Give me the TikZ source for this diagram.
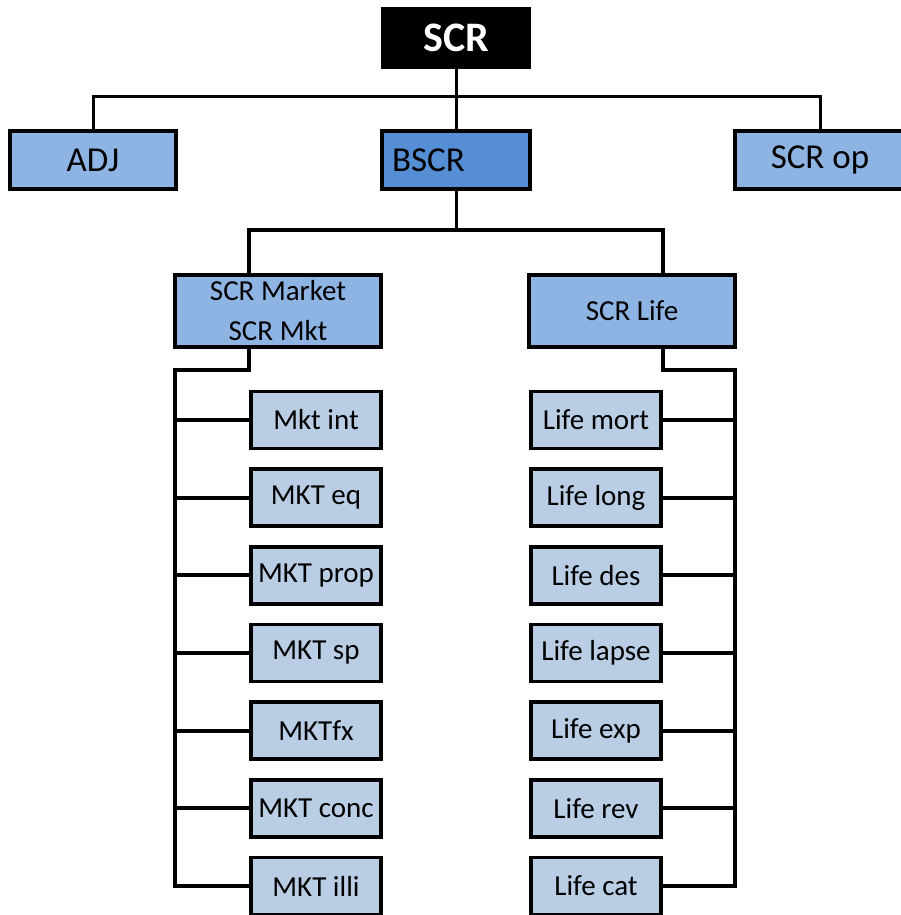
\documentclass[tikz,border=0pt]{standalone}
\usepackage{fontspec}
\setmainfont{Carlito}
\definecolor{topblue}{HTML}{8EB4E3}
\definecolor{midblue}{HTML}{558ED5}
\definecolor{leafblue}{HTML}{B9CDE5}
\begin{document}
\begin{tikzpicture}[x=1pt,y=-1pt,
  box/.style={draw,line width=3.5pt,fill=topblue,inner sep=0pt,minimum height=58pt,font=\fontsize{35}{40}\selectfont},
  leaf/.style={draw,line width=3.5pt,fill=leafblue,inner sep=0pt,minimum width=130pt,minimum height=57pt,font=\fontsize{29}{35}\selectfont},
  link/.style={line width=3pt},
  branch/.style={line width=4pt}]
  \useasboundingbox (0,0) rectangle (900,915);
  % top level
  \node[box,fill=black,text=white,minimum width=147pt,font=\fontsize{42}{48}\selectfont\bfseries] (scr) at (456,38) {SCR};
  \node[box,minimum width=166pt] (adj) at (93,160) {ADJ};
  \node[box,fill=midblue,text width=128pt,inner xsep=10pt,align=left] (bscr) at (456,160) {BSCR};
  \node[box,minimum width=170pt] (scrop) at (820,160) {SCR op};
  \coordinate (bar1) at (456,97);
  \draw[link] (adj.north) |- (bar1) -| (scrop.north);
  \draw[link] (scr.south) -- (bscr.north);
  % modules
  \node[box,minimum width=206pt,minimum height=72pt,align=center,font=\fontsize{29}{40}\selectfont] (market) at (278,311) {SCR Market\\SCR Mkt};
  \node[box,minimum width=206pt,minimum height=72pt,font=\fontsize{29}{35}\selectfont] (life) at (632,311) {SCR Life};
  % sub-modules
  \foreach \lbl [count=\i] in {Mkt int,MKT eq,MKT prop,MKT sp,MKTfx,MKT conc,MKT illi}
    \node[leaf] (mkt\i) at (316,{420+(\i-1)*77.67}) {\lbl};
  \foreach \lbl [count=\i] in {Life mort,Life long,Life des,Life lapse,Life exp,Life rev,Life cat}
    \node[leaf] (life\i) at (596,{420+(\i-1)*77.67}) {\lbl};
  \coordinate (bar2) at (456,230);
  \draw[link] (bscr.south) -- (bar2);
  \draw[branch] (market.north -| mkt1.west) |- (bar2) -| (life.north -| life1.east);
  % spines
  \coordinate (mspine) at (175,370);
  \coordinate (lspine) at (735,370);
  \draw[branch] (market.south -| mkt1.west) |- (mspine) |- (mkt7.west);
  \draw[branch] (life.south -| life1.east) |- (lspine) |- (life7.east);
  \foreach \i in {1,...,6} {
    \draw[branch] (mspine |- mkt\i) -- (mkt\i.west);
    \draw[branch] (lspine |- life\i) -- (life\i.east);
  }
\end{tikzpicture}
\end{document}
